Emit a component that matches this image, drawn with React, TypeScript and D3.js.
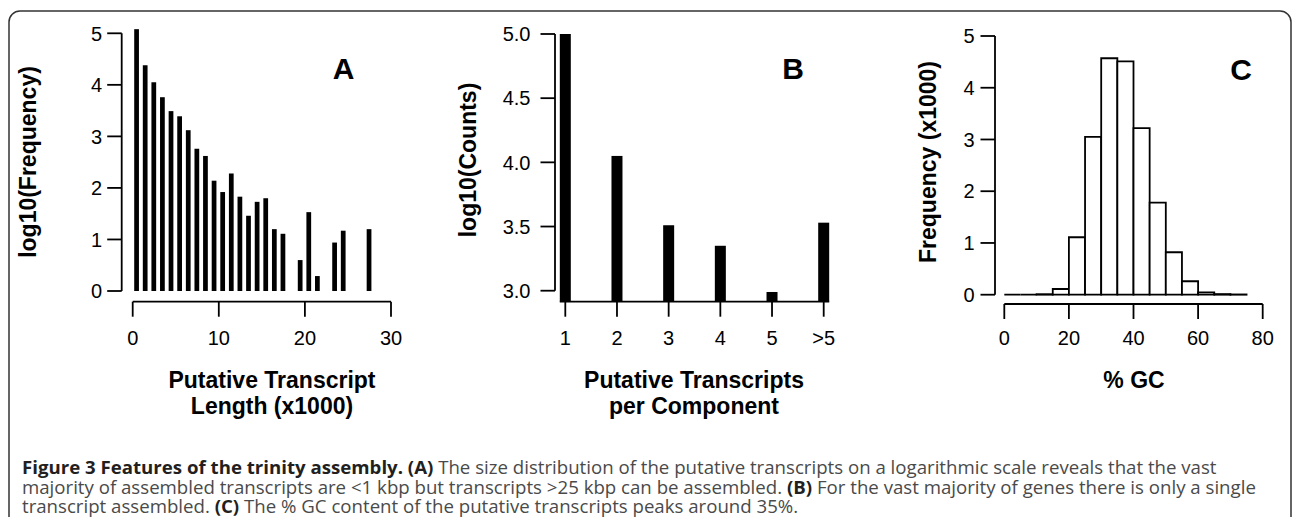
import React from "react";
import * as d3 from "d3";

// ---------- data ----------
// Panel A: log10(frequency) per 1 kbp length bin (index = bin start, x1000); null = empty bin
const lengthBins: number[] = Array.from({ length: 28 }, (_, i) => i);
const lengthLogFreq: (number | null)[] = [
  5.08, 4.38, 4.05, 3.76, 3.49, 3.39, 3.12, 2.76, 2.62, 2.14,
  1.92, 2.28, 1.83, 1.46, 1.73, 1.8, 1.2, 1.11, null, 0.6,
  1.53, 0.29, null, 0.94, 1.17, null, null, 1.2,
];
const aXTicks = [0, 10, 20, 30];
const aYTicks = [0, 1, 2, 3, 4, 5];

// Panel B: transcripts per component
const compCategories = ["1", "2", "3", "4", "5", ">5"];
const compLogCounts = [5.0, 4.05, 3.51, 3.35, 2.99, 3.53];
const bYTicks = [3.0, 3.5, 4.0, 4.5, 5.0];

// Panel C: %GC histogram (5% bins), frequency x1000
const gcBinStarts = [0, 5, 10, 15, 20, 25, 30, 35, 40, 45, 50, 55, 60, 65, 70];
const gcFreq = [0, 0, 0.01, 0.11, 1.11, 3.05, 4.57, 4.51, 3.22, 1.78, 0.82, 0.26, 0.045, 0.012, 0.005];
const cXTicks = [0, 20, 40, 60, 80];
const cYTicks = [0, 1, 2, 3, 4, 5];

// ---------- styles ----------
const AX = "'Liberation Sans', Arial, Helvetica, sans-serif";
const CAP = "'Open Sans', 'Noto Sans', sans-serif";
const TICK_FS = 20;
const TITLE_FS = 23;
const LETTER_FS = 30;
const LW = 1.8;

export default function App() {
  // Panel A scales
  const xA = d3.scaleLinear().domain([0, 30]).range([132.7, 391]);
  const yA = d3.scaleLinear().domain([0, 5]).range([291, 33.3]);
  const aAxisX = 121.7;
  const aAxisY = 301.7;
  const aBarW = (xA(1) - xA(0)) * 0.55;

  // Panel B scales
  const xB = d3.scalePoint<string>().domain(compCategories).range([565.3, 823.7]);
  const yB = d3.scaleLinear().domain([3, 5]).range([290.7, 34]);
  const bAxisX = 555;
  const bAxisY = 301.7;
  const bBarW = 11;

  // Panel C scales
  const xC = d3.scaleLinear().domain([0, 80]).range([1004.3, 1262.7]);
  const yC = d3.scaleLinear().domain([0, 5]).range([294.7, 36]);
  const cAxisX = 995;
  const cAxisY = 304;

  const tickLen = 14.5;

  const yAxis = (
    scale: d3.ScaleLinear<number, number>,
    ticks: number[],
    axisX: number,
    fmt: (v: number) => string,
    gap: number
  ) => (
    <g>
      <line x1={axisX} x2={axisX} y1={scale(ticks[0])} y2={scale(ticks[ticks.length - 1])} stroke="#000" strokeWidth={LW} />
      {ticks.map((t) => (
        <g key={t}>
          <line x1={axisX - tickLen} x2={axisX} y1={scale(t)} y2={scale(t)} stroke="#000" strokeWidth={LW} />
          <text x={axisX - tickLen - gap} y={scale(t)} dy="0.36em" textAnchor="end" style={{ fontFamily: AX }} fontSize={TICK_FS} fill="#000">
            {fmt(t)}
          </text>
        </g>
      ))}
    </g>
  );

  const histPath = (s: number, v: number) => {
    const p = d3.path();
    p.moveTo(xC(s), yC(0));
    p.lineTo(xC(s), yC(v));
    p.lineTo(xC(s + 5), yC(v));
    p.lineTo(xC(s + 5), yC(0));
    p.closePath();
    return p.toString();
  };

  return (
    <svg width={1295} height={517} style={{ position: "absolute", left: 0, top: 0, background: "#fff" }}>
      <rect x={0} y={0} width={1295} height={517} fill="#fff" />
      {/* frame */}
      <rect x={9} y={11} width={1282} height={520} rx={11} ry={11} fill="none" stroke="#333" strokeWidth={1.5} />

      {/* ---------- Panel A ---------- */}
      <g>
        {lengthBins.map((b, i) =>
          lengthLogFreq[i] == null ? null : (
            <rect
              key={b}
              x={xA(b + 0.45) - aBarW / 2}
              y={yA(lengthLogFreq[i] as number)}
              width={aBarW}
              height={yA(0) - yA(lengthLogFreq[i] as number)}
              fill="#000"
            />
          )
        )}
        {yAxis(yA, aYTicks, aAxisX, (v) => String(v), 5)}
        <line x1={xA(0)} x2={xA(30)} y1={aAxisY} y2={aAxisY} stroke="#000" strokeWidth={LW} />
        {aXTicks.map((t) => (
          <g key={t}>
            <line x1={xA(t)} x2={xA(t)} y1={aAxisY} y2={aAxisY + 15} stroke="#000" strokeWidth={LW} />
            <text x={xA(t)} y={345} textAnchor="middle" style={{ fontFamily: AX }} fontSize={TICK_FS}>{t}</text>
          </g>
        ))}
        <text transform="translate(36,162) rotate(-90)" textAnchor="middle" style={{ fontFamily: AX }} fontWeight="bold" fontSize={TITLE_FS}>
          log10(Frequency)
        </text>
        <text x={272} y={388} textAnchor="middle" style={{ fontFamily: AX }} fontWeight="bold" fontSize={TITLE_FS}>Putative Transcript</text>
        <text x={272} y={414} textAnchor="middle" style={{ fontFamily: AX }} fontWeight="bold" fontSize={TITLE_FS}>Length (x1000)</text>
        <text x={343.5} y={78.5} textAnchor="middle" style={{ fontFamily: AX }} fontWeight="bold" fontSize={LETTER_FS}>A</text>
      </g>

      {/* ---------- Panel B ---------- */}
      <g>
        {compCategories.map((c, i) => (
          <rect
            key={c}
            x={(xB(c) as number) - bBarW / 2}
            y={yB(compLogCounts[i])}
            width={bBarW}
            height={bAxisY - yB(compLogCounts[i])}
            fill="#000"
          />
        ))}
        {yAxis(yB, bYTicks, bAxisX, (v) => v.toFixed(1), 10)}
        <line
          x1={(xB(compCategories[0]) as number) - bBarW / 2}
          x2={(xB(compCategories[compCategories.length - 1]) as number) + bBarW / 2}
          y1={bAxisY}
          y2={bAxisY}
          stroke="#000"
          strokeWidth={LW}
        />
        {compCategories.map((c) => (
          <g key={c}>
            <line x1={xB(c)} x2={xB(c)} y1={bAxisY} y2={bAxisY + 15} stroke="#000" strokeWidth={LW} />
            <text x={xB(c)} y={345} textAnchor="middle" style={{ fontFamily: AX }} fontSize={TICK_FS}>{c}</text>
          </g>
        ))}
        <text transform="translate(476,160) rotate(-90)" textAnchor="middle" style={{ fontFamily: AX }} fontWeight="bold" fontSize={TITLE_FS}>
          log10(Counts)
        </text>
        <text x={694} y={388} textAnchor="middle" style={{ fontFamily: AX }} fontWeight="bold" fontSize={TITLE_FS}>Putative Transcripts</text>
        <text x={694} y={414} textAnchor="middle" style={{ fontFamily: AX }} fontWeight="bold" fontSize={TITLE_FS}>per Component</text>
        <text x={793} y={78.5} textAnchor="middle" style={{ fontFamily: AX }} fontWeight="bold" fontSize={LETTER_FS}>B</text>
      </g>

      {/* ---------- Panel C ---------- */}
      <g>
        {gcBinStarts.map((s, i) => (
          <path key={s} d={histPath(s, gcFreq[i])} fill="#fff" stroke="#000" strokeWidth={LW} />
        ))}
        {yAxis(yC, cYTicks, cAxisX, (v) => String(v), 6)}
        <line x1={xC(0)} x2={xC(80)} y1={cAxisY} y2={cAxisY} stroke="#000" strokeWidth={LW} />
        {cXTicks.map((t) => (
          <g key={t}>
            <line x1={xC(t)} x2={xC(t)} y1={cAxisY} y2={cAxisY + 15} stroke="#000" strokeWidth={LW} />
            <text x={xC(t)} y={345} textAnchor="middle" style={{ fontFamily: AX }} fontSize={TICK_FS}>{t}</text>
          </g>
        ))}
        <text transform="translate(936,162) rotate(-90)" textAnchor="middle" style={{ fontFamily: AX }} fontWeight="bold" fontSize={TITLE_FS}>
          Frequency (x1000)
        </text>
        <text x={1134} y={388} textAnchor="middle" style={{ fontFamily: AX }} fontWeight="bold" fontSize={TITLE_FS}>% GC</text>
        <text x={1241} y={80} textAnchor="middle" style={{ fontFamily: AX }} fontWeight="bold" fontSize={LETTER_FS}>C</text>
      </g>

      {/* ---------- Caption ---------- */}
      <g style={{ fontFamily: CAP }} fontSize={18.65} fill="#4a4a4a">
        <text x={22} y={473.5}>
          <tspan fontWeight="bold" fill="#231f20">Figure 3 Features of the trinity assembly. (A)</tspan>
          <tspan> The size distribution of the putative transcripts on a logarithmic scale reveals that the vast</tspan>
        </text>
        <text x={22} y={493.5}>
          <tspan>majority of assembled transcripts are &lt;1 kbp but transcripts &gt;25 kbp can be assembled. </tspan>
          <tspan fontWeight="bold" fill="#231f20">(B)</tspan>
          <tspan> For the vast majority of genes there is only a single</tspan>
        </text>
        <text x={22} y={513}>
          <tspan>transcript assembled. </tspan>
          <tspan fontWeight="bold" fill="#231f20">(C)</tspan>
          <tspan> The % GC content of the putative transcripts peaks around 35%.</tspan>
        </text>
      </g>
    </svg>
  );
}
